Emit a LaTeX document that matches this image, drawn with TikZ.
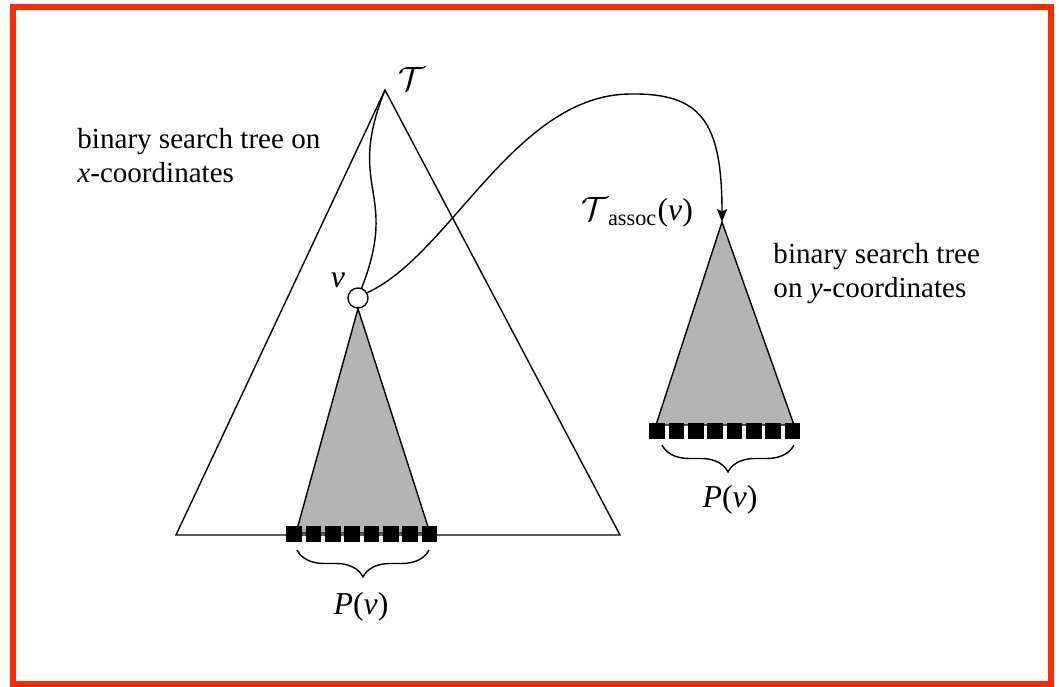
\documentclass[tikz,border=0pt]{standalone}
\usepackage{fontspec}
\setmainfont{Liberation Serif}
\usepackage{tikz}
\usetikzlibrary{arrows.meta,decorations.pathreplacing}
\definecolor{frame}{HTML}{FF2A00}
\definecolor{shade}{HTML}{B4B4B4}
\tikzset{
  every node/.style={font=\fontsize{12.4}{14.5}\selectfont},
  edge/.style={line width=0.6pt},
  subtree/.style={edge,fill=shade},
  leaf/.style={fill=black,inner sep=0pt,minimum size=0.235cm},
  vert/.style={circle,draw,fill=white,line width=0.6pt,inner sep=0pt,minimum size=0.3cm},
  pbrace/.style={decorate,decoration={brace,mirror,amplitude=11.5pt},line width=0.6pt},
  ar/.style={-{Stealth[length=5.5pt,width=4.3pt,inset=1pt]},line width=0.6pt},
  txt/.style={align=left,anchor=north west,inner sep=0pt},
  mlab/.style={font=\fontsize{13.6}{16}\selectfont},
}

\begin{document}
\begin{tikzpicture}[x=0.015cm,y=-0.015cm]
\useasboundingbox (0,0) rectangle (1059,686);
\draw[frame,line width=2.56pt] (13,7) rectangle (1050.5,684);

\coordinate (top) at (385,90);
\coordinate (bl) at (176,535);
\coordinate (br) at (620,535);
\draw[edge] (top) -- (bl) -- (br) -- cycle;

\node[vert] (v) at (358,298) {};
\coordinate (sbl) at (296,533);
\coordinate (sbr) at (430,533);
\draw[subtree] (v.south) -- (sbl) -- (sbr) -- cycle;
\foreach \i in {0,...,7}
  \node[leaf] (pa\i) at (294.3+19.3*\i,534) {};

\coordinate (rtop) at (722,222);
\coordinate (rbl) at (656,425);
\coordinate (rbr) at (794,425);
\draw[subtree] (rtop) -- (rbl) -- (rbr) -- cycle;
\foreach \i in {0,...,7}
  \node[leaf] (pb\i) at (657.3+19.3*\i,431) {};

\draw[edge] (top) .. controls (345,190) and (400,190) .. (v.70);
\draw[ar] (v.30) .. controls (450,255) and (515,95) .. (630,94)
  .. controls (700,93) and (722,120) .. (rtop);

\coordinate (ba) at (297,550);
\coordinate (bb) at (429,550);
\draw[pbrace] (ba) -- (bb);
\coordinate (bc) at (662,445);
\coordinate (bd) at (794,445);
\draw[pbrace] (bc) -- (bd);

\node[mlab] (tlab) at (412,79) {$\mathcal{T}$};
\node[mlab] (vlab) at (338,280) {\textit{ν}};
\node[mlab] (alab) at (637,212) {$\mathcal{T}$\textsubscript{assoc}(\textit{ν})};
\node[mlab] (pl) at (361,607) {\textit{P}(\textit{ν})};
\node[mlab] (pr) at (730,500) {\textit{P}(\textit{ν})};
\node[txt] (xtxt) at (77,128) {binary search tree on\\\textit{x}-coordinates};
\node[txt] (ytxt) at (773,243) {binary search tree\\on \textit{y}-coordinates};
\end{tikzpicture}
\end{document}
